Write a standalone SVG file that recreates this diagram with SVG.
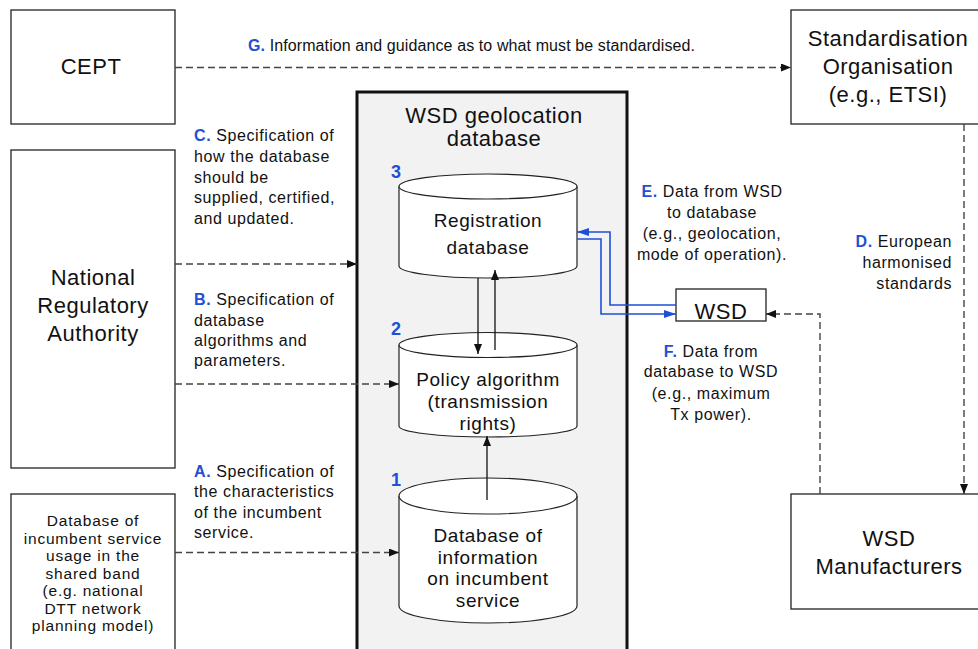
<svg xmlns="http://www.w3.org/2000/svg" width="978" height="649" viewBox="0 0 978 649">
<defs>
<style>
.box{fill:#fff;stroke:#222;stroke-width:1.3}
.nt{font-family:"Liberation Sans",Arial,sans-serif;font-size:22px;letter-spacing:0.5px;fill:#111;text-anchor:middle}
.st{font-family:"Liberation Sans",Arial,sans-serif;font-size:15.5px;letter-spacing:0.8px;fill:#111;text-anchor:middle}
.lb{font-family:"Liberation Sans",Arial,sans-serif;font-size:16px;letter-spacing:0.6px;fill:#111}
.bl{fill:#1f4fd6;font-weight:bold}
.num{font-family:"Liberation Sans",Arial,sans-serif;font-size:18px;font-weight:bold;fill:#1f4fd6}
.cyl{fill:#fff;stroke:#222;stroke-width:1.2}
.ct{font-family:"Liberation Sans",Arial,sans-serif;font-size:19px;letter-spacing:0.6px;fill:#111;text-anchor:middle}
.dash{fill:none;stroke:#444;stroke-width:1.4;stroke-dasharray:7 4}
.solid{fill:none;stroke:#111;stroke-width:1.3}
.blue{fill:none;stroke:#1f4fd6;stroke-width:1.6}
</style>
<marker id="ah" viewBox="0 0 10 8" refX="10" refY="4" markerWidth="10" markerHeight="8" markerUnits="userSpaceOnUse" orient="auto">
<path d="M0,0 L10,4 L0,8 z" fill="#111"/>
</marker>
<marker id="ahb" viewBox="0 0 12 8" refX="12" refY="4" markerWidth="12" markerHeight="8" markerUnits="userSpaceOnUse" orient="auto">
<path d="M0,0 L12,4 L0,8 z" fill="#1f4fd6"/>
</marker>
</defs>
<rect width="978" height="649" fill="#fff"/>

<g id="wsd-geolocation-database">
<rect x="357" y="92" width="270" height="570" fill="#f2f2f2" stroke="#111" stroke-width="3"/>
<text class="nt" x="494" y="123">WSD geolocation</text>
<text class="nt" x="494" y="146">database</text>
</g>

<g id="cept">
<rect class="box" x="11" y="10" width="164" height="114"/>
<text class="nt" x="91" y="74">CEPT</text>
</g>

<g id="nra">
<rect class="box" x="11" y="150" width="164" height="318"/>
<text class="nt" x="93" y="285">National</text>
<text class="nt" x="93" y="313">Regulatory</text>
<text class="nt" x="93" y="341">Authority</text>
</g>

<g id="incumbent-db">
<rect class="box" x="11" y="494" width="164" height="170"/>
<text class="st" x="93" y="526">Database of</text>
<text class="st" x="93" y="543.5">incumbent service</text>
<text class="st" x="93" y="561">usage in the</text>
<text class="st" x="93" y="578.5">shared band</text>
<text class="st" x="93" y="596">(e.g. national</text>
<text class="st" x="93" y="613.5">DTT network</text>
<text class="st" x="93" y="631">planning model)</text>
</g>

<g id="standardisation-org">
<rect class="box" x="791" y="10" width="195" height="114"/>
<text class="nt" x="888" y="46">Standardisation</text>
<text class="nt" x="888" y="74">Organisation</text>
<text class="nt" x="888" y="102">(e.g., ETSI)</text>
</g>

<g id="wsd-manufacturers">
<rect class="box" x="791" y="494" width="195" height="115"/>
<text class="nt" x="889" y="546">WSD</text>
<text class="nt" x="889" y="574">Manufacturers</text>
</g>

<g id="wsd">
<rect class="box" x="676" y="289" width="90" height="32"/>
<text class="nt" x="721" y="319">WSD</text>
</g>

<g id="registration-db">
<path class="cyl" d="M399,186.5 L399,266 A89,12 0 0 0 577,266 L577,186.5"/>
<ellipse class="cyl" cx="488" cy="186.5" rx="89" ry="12.5"/>
<text class="num" x="391" y="178">3</text>
<text class="ct" x="488" y="227">Registration</text>
<text class="ct" x="488" y="254">database</text>
</g>

<g id="policy-algorithm">
<path class="cyl" d="M399,345 L399,426 A89,11 0 0 0 577,426 L577,345"/>
<ellipse class="cyl" cx="488" cy="345" rx="89" ry="12.5"/>
<text class="num" x="391" y="335">2</text>
<text class="ct" x="488" y="386">Policy algorithm</text>
<text class="ct" x="488" y="408">(transmission</text>
<text class="ct" x="488" y="430">rights)</text>
</g>

<g id="incumbent-info-db">
<path class="cyl" d="M399,496 L399,606 A89,17 0 0 0 577,606 L577,496"/>
<ellipse class="cyl" cx="488" cy="496" rx="89" ry="18"/>
<text class="num" x="391" y="486">1</text>
<text class="ct" x="488" y="542">Database of</text>
<text class="ct" x="488" y="563.5">information</text>
<text class="ct" x="488" y="585">on incumbent</text>
<text class="ct" x="488" y="606.5">service</text>
</g>

<g id="connectors">
<path class="dash" d="M175,67.5 L791,67.5" marker-end="url(#ah)"/>
<path class="dash" d="M175,264 L357,264" marker-end="url(#ah)"/>
<path class="dash" d="M175,384 L399,384" marker-end="url(#ah)"/>
<path class="dash" d="M175,552.5 L399,552.5" marker-end="url(#ah)"/>
<path class="dash" d="M964,124 L964,494" marker-end="url(#ah)"/>
<path class="dash" d="M820,494 L820,314 L766,314" marker-end="url(#ah)"/>
<path class="solid" d="M478,278 L478,354" marker-end="url(#ah)"/>
<path class="solid" d="M495,350 L495,270" marker-end="url(#ah)"/>
<path class="solid" d="M487,500 L487,436" marker-end="url(#ah)"/>
<path class="blue" d="M676,305 L610,305 L610,232 L577,232" marker-end="url(#ahb)"/>
<path class="blue" d="M577,239 L601,239 L601,314 L676,314" marker-end="url(#ahb)"/>
</g>

<g id="labels">
<text class="lb" x="248" y="51" style="letter-spacing:0.1px"><tspan class="bl">G.</tspan> Information and guidance as to what must be standardised.</text>
<text class="lb" x="194" y="141"><tspan class="bl">C.</tspan> Specification of</text>
<text class="lb" x="194" y="162">how the database</text>
<text class="lb" x="194" y="182.5">should be</text>
<text class="lb" x="194" y="203">supplied, certified,</text>
<text class="lb" x="194" y="223.5">and updated.</text>
<text class="lb" x="194" y="305"><tspan class="bl">B.</tspan> Specification of</text>
<text class="lb" x="194" y="325.5">database</text>
<text class="lb" x="194" y="346">algorithms and</text>
<text class="lb" x="194" y="366">parameters.</text>
<text class="lb" x="194" y="477"><tspan class="bl">A.</tspan> Specification of</text>
<text class="lb" x="194" y="497">the characteristics</text>
<text class="lb" x="194" y="517.5">of the incumbent</text>
<text class="lb" x="194" y="538">service.</text>
<text class="lb" x="712" y="197" text-anchor="middle"><tspan class="bl">E.</tspan> Data from WSD</text>
<text class="lb" x="712" y="217.5" text-anchor="middle">to database</text>
<text class="lb" x="712" y="239" text-anchor="middle">(e.g., geolocation,</text>
<text class="lb" x="712" y="259.5" text-anchor="middle">mode of operation).</text>
<text class="lb" x="711" y="357" text-anchor="middle"><tspan class="bl">F.</tspan> Data from</text>
<text class="lb" x="711" y="377" text-anchor="middle">database to WSD</text>
<text class="lb" x="711" y="398.5" text-anchor="middle">(e.g., maximum</text>
<text class="lb" x="711" y="419.5" text-anchor="middle">Tx power).</text>
<text class="lb" x="952" y="247" text-anchor="end"><tspan class="bl">D.</tspan> European</text>
<text class="lb" x="952" y="268" text-anchor="end">harmonised</text>
<text class="lb" x="952" y="288.5" text-anchor="end">standards</text>
</g>
</svg>
